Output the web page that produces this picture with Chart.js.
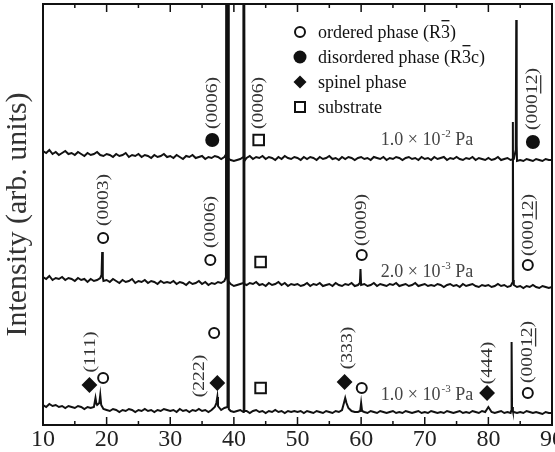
<!DOCTYPE html>
<html>
<head>
<meta charset="utf-8">
<script src="https://cdn.jsdelivr.net/npm/chart.js@4.4.1/dist/chart.umd.min.js"></script>
<style>
  html, body { margin: 0; padding: 0; background: #fff; }
  #wrap { width: 555px; height: 452px; position: relative; }
</style>
</head>
<body>
<div id="wrap"><canvas id="xrd"></canvas></div>
<script>
// 2theta grid (deg) shared by the three baselines
const angles = [
  10,10.5,11,11.5,12,12.5,13,13.5,14,14.5,15,15.5,16,16.5,17,17.5,18,18.5,19,19.5,
  20,20.5,21,21.5,22,22.5,23,23.5,24,24.5,25,25.5,26,26.5,27,27.5,28,28.5,29,29.5,
  30,30.5,31,31.5,32,32.5,33,33.5,34,34.5,35,35.5,36,36.5,37,37.5,38,38.5,39,39.5,
  40,40.5,41,41.5,42,42.5,43,43.5,44,44.5,45,45.5,46,46.5,47,47.5,48,48.5,49,49.5,
  50,50.5,51,51.5,52,52.5,53,53.5,54,54.5,55,55.5,56,56.5,57,57.5,58,58.5,59,59.5,
  60,60.5,61,61.5,62,62.5,63,63.5,64,64.5,65,65.5,66,66.5,67,67.5,68,68.5,69,69.5,
  70,70.5,71,71.5,72,72.5,73,73.5,74,74.5,75,75.5,76,76.5,77,77.5,78,78.5,79,79.5,
  80,80.5,81,81.5,82,82.5,83,83.5,84,84.5,85,85.5,86,86.5,87,87.5,88,88.5,89,89.5,
  90
];

// 1.0 x 10^-2 Pa (offset upward)
const topBase = [
  274,272,275,271,273,270,272,274,271,272,270,273,271,269,272,270,271,273,270,269,
  271,270,268,271,269,270,272,268,270,269,271,268,270,269,267,270,268,269,271,268,
  269,267,270,268,266,269,268,270,267,268,269,266,268,267,269,268,266,268,267,265,
  264,265,266,268,267,269,266,268,267,269,266,268,267,265,268,266,269,267,266,268,
  267,265,268,266,268,267,265,268,266,267,269,266,267,265,268,266,268,267,265,267,
  268,266,267,265,268,267,266,268,265,267,266,268,267,265,267,268,266,267,265,268,
  266,267,265,268,266,267,268,265,267,266,268,266,265,267,266,268,265,267,266,265,
  267,265,266,268,265,266,267,265,266,264,265,264,266,265,264,266,265,264,266,265,
  265
];
const topPeaks = [[38.8,271],[38.9,800],[41.55,800],[41.65,264],[84.3,275],[84.38,405],[84.45,280]];

// 2.0 x 10^-3 Pa
const midBase = [
  148,146,149,145,147,146,148,145,147,146,144,147,145,146,143,146,144,145,147,144,
  145,143,146,144,142,145,143,144,146,142,144,143,145,142,144,143,141,144,142,143,
  142,144,141,143,142,140,143,141,142,144,141,143,140,142,141,143,142,144,145,141,
  139,140,141,142,140,142,141,143,140,141,139,142,140,141,143,140,142,139,141,140,
  141,139,140,142,139,141,140,142,139,140,141,139,142,140,139,141,140,142,139,140,
  140,141,139,140,142,139,141,140,139,141,140,142,139,140,141,139,140,142,139,140,
  141,139,140,139,141,140,138,140,141,139,140,138,141,139,140,141,139,138,140,139,
  140,138,139,141,139,140,138,139,140,138,139,137,139,138,140,138,137,139,138,137,
  138
];
const midPeaks = [[19.2,150],[19.3,173],[19.4,148],[38.75,148],[38.85,800],[41.55,800],[41.65,141],
  [59.8,142],[59.9,156],[83.75,142],[83.85,303],[83.92,145]];

// 1.0 x 10^-3 Pa
const lowBase = [
  20,18,21,19,20,18,19,17,19,18,17,19,18,16,18,17,18,20,30,16,
  15,14,16,15,13,15,14,16,15,13,15,14,16,14,15,13,15,14,16,15,
  14,15,13,16,14,15,13,15,14,16,14,15,13,15,18,19,15,17,18,14,
  13,14,15,13,14,12,14,15,13,14,12,14,13,15,13,14,12,14,13,14,
  13,14,12,14,13,12,14,13,12,14,13,12,14,13,15,27,17,14,13,13,
  22,13,12,14,13,12,14,13,12,13,14,12,13,12,14,13,12,13,14,12,
  13,12,14,13,12,13,12,14,13,12,13,14,12,13,12,14,13,12,14,13,
  18,13,12,13,14,12,13,12,13,12,13,12,14,13,12,13,12,11,13,12,
  12
];
const lowPeaks = [[18.25,27],[18.4,21],[18.85,22],[19.15,20],[37.25,22],[37.4,28],[39.1,800],[39.2,16],
  [41.55,800],[41.65,14],[57.3,22],[57.7,22],[59.85,14],[60.15,14],[83.58,14],[83.65,83],[83.72,18],[83.85,14]];

// phase markers [2theta, intensity]
const orderedPts = [[19.45,187],[36.3,165],[60.1,170],[86.2,160],[19.45,47],[36.9,92],[60.1,37],[86.2,32]];
const disorderedPts = [[36.6,285],[87.0,283]];
const spinelPts = [[17.3,40],[37.4,42],[57.4,43],[79.8,32]];
const substratePts = [[43.9,285],[44.2,163],[44.2,37]];

// reflection labels, | marks the underlined part
const hklLabels = [
  ['(0006)',36.6,322],['(0006)',43.9,322],['(000|12|)',87.0,326],
  ['(0003)',19.45,225],['(0006)',36.3,203],['(0009)',60.1,205],['(000|12|)',86.3,200],
  ['(111)',17.4,73],['(222)',34.6,49],['(333)',57.9,77],['(444)',79.9,62],['(000|12|)',86.2,73]
];
const pressures = [['1.0','-2',63.1,285],['2.0','-3',63.1,153],['1.0','-3',63.1,30]];

const legendItems = ['ordered phase (R|3|)', 'disordered phase (R|3|c)', 'spinel phase', 'substrate'];

function trace(base, peaks) {
  const pts = angles.map((a, i) => ({x: a, y: base[i]}));
  peaks.forEach(p => pts.push({x: p[0], y: p[1]}));
  return pts.sort((a, b) => a.x - b.x);
}
const toXY = arr => arr.map(p => ({x: p[0], y: p[1]}));

const SERIF = '"Liberation Serif", "DejaVu Serif", serif';

function lineSet(data) {
  return { data: data, showLine: true, borderColor: '#111', borderWidth: 2, pointRadius: 0, tension: 0 };
}

function marker(data, style, fill, r) {
  return { data: toXY(data), showLine: false, pointStyle: style, pointRadius: r,
    pointBackgroundColor: fill, pointBorderColor: '#111', pointBorderWidth: 2 };
}

function drawMarked(ctx, str, x, y, bar) {
  // draws text left-aligned; parts between | get an over/under bar
  const parts = str.split('|');
  let cx = x;
  const fs = parseFloat(ctx.font);
  parts.forEach((s, i) => {
    ctx.fillText(s, cx, y);
    const w = ctx.measureText(s).width;
    if (i % 2 === 1) {
      const by = bar === 'over' ? y - fs * 0.72 : y + fs * 0.42;
      ctx.fillRect(cx + 0.5, by, w - 1, 1.3);
    }
    cx += w;
  });
}

const annotate = {
  id: 'annotate',
  afterDatasetsDraw(chart) {
    const {ctx, chartArea: a, scales: {x, y}} = chart;
    ctx.save();
    ctx.strokeStyle = '#111';
    ctx.lineWidth = 2;
    ctx.strokeRect(a.left, a.top, a.right - a.left, a.bottom - a.top);
    ctx.lineWidth = 1.5;
    x.ticks.forEach(t => {
      const px = x.getPixelForValue(t.value);
      const len = t.value % 10 === 0 ? 8 : 4;
      ctx.beginPath();
      ctx.moveTo(px, a.bottom); ctx.lineTo(px, a.bottom - len);
      ctx.moveTo(px, a.top); ctx.lineTo(px, a.top + len);
      ctx.stroke();
    });

    // rotated hkl labels
    ctx.fillStyle = '#333';
    ctx.font = '17px ' + SERIF;
    ctx.textBaseline = 'middle';
    ctx.textAlign = 'left';
    hklLabels.forEach(([txt, tt, inten]) => {
      const w = ctx.measureText(txt.replace(/\|/g, '')).width;
      ctx.save();
      ctx.translate(x.getPixelForValue(tt), y.getPixelForValue(inten));
      ctx.rotate(-Math.PI / 2);
      ctx.scale(1.15, 1);
      drawMarked(ctx, txt, -w / 2, 0, 'under');
      ctx.restore();
    });

    // pressure labels
    ctx.fillStyle = '#444';
    pressures.forEach(([m, e, tt, inten]) => {
      const px = x.getPixelForValue(tt), py = y.getPixelForValue(inten);
      ctx.font = '18px ' + SERIF;
      const s1 = m + ' \u00d7 10';
      ctx.fillText(s1, px, py);
      let cx = px + ctx.measureText(s1).width + 1;
      ctx.font = '11px ' + SERIF;
      ctx.fillText(e, cx, py - 6);
      cx += ctx.measureText(e).width;
      ctx.font = '18px ' + SERIF;
      ctx.fillText(' Pa', cx, py);
    });

    // legend
    const lx = 300, rows = [32, 57, 82, 107];
    ctx.fillStyle = '#111';
    ctx.lineWidth = 2;
    rows.forEach((ry, i) => {
      ctx.beginPath();
      if (i === 0) { ctx.arc(lx, ry, 5, 0, Math.PI * 2); ctx.fillStyle = '#fff'; ctx.fill(); ctx.stroke(); }
      if (i === 1) { ctx.arc(lx, ry, 6.5, 0, Math.PI * 2); ctx.fillStyle = '#111'; ctx.fill(); }
      if (i === 2) { ctx.moveTo(lx, ry - 6.5); ctx.lineTo(lx + 6.5, ry); ctx.lineTo(lx, ry + 6.5); ctx.lineTo(lx - 6.5, ry); ctx.closePath(); ctx.fillStyle = '#111'; ctx.fill(); }
      if (i === 3) { ctx.rect(lx - 5, ry - 5, 10, 10); ctx.stroke(); }
    });
    ctx.fillStyle = '#111';
    ctx.font = '18px ' + SERIF;
    legendItems.forEach((txt, i) => drawMarked(ctx, txt, 318, rows[i] + 1, 'over'));
    ctx.restore();
  }
};

new Chart(document.getElementById('xrd'), {
  type: 'scatter',
  data: {
    datasets: [
      marker(orderedPts, 'circle', '#fff', 5),
      marker(disorderedPts, 'circle', '#111', 6),
      marker(spinelPts, 'rectRot', '#111', 6.5),
      marker(substratePts, 'rect', '#fff', 7.5),
      lineSet(trace(topBase, topPeaks)),
      lineSet(trace(midBase, midPeaks)),
      lineSet(trace(lowBase, lowPeaks))
    ]
  },
  options: {
    responsive: true,
    maintainAspectRatio: false,
    animation: false,
    devicePixelRatio: 1,
    layout: { autoPadding: false, padding: { top: 4, right: 3, left: 0, bottom: 0 } },
    plugins: { legend: { display: false }, tooltip: { enabled: false } },
    scales: {
      x: {
        type: 'linear', min: 10, max: 90,
        grid: { display: false, drawTicks: false },
        border: { display: false },
        ticks: {
          stepSize: 5, autoSkip: false, maxRotation: 0, padding: 0,
          color: '#222', font: { family: SERIF, size: 24 },
          callback: v => (v % 10 === 0 ? v : '')
        },
        afterFit: s => { s.height = 27; s.paddingLeft = 0; s.paddingRight = 0; }
      },
      y: {
        min: 0, max: 421,
        grid: { display: false, drawTicks: false },
        border: { display: false },
        ticks: { display: false },
        title: { display: true, text: 'Intensity (arb. units)', color: '#333',
          font: { family: SERIF, size: 30 }, padding: { top: 0, bottom: 0 } },
        afterFit: s => { s.width = 43; s.paddingTop = 0; s.paddingBottom = 0; }
      }
    }
  },
  plugins: [annotate]
});
</script>
</body>
</html>
